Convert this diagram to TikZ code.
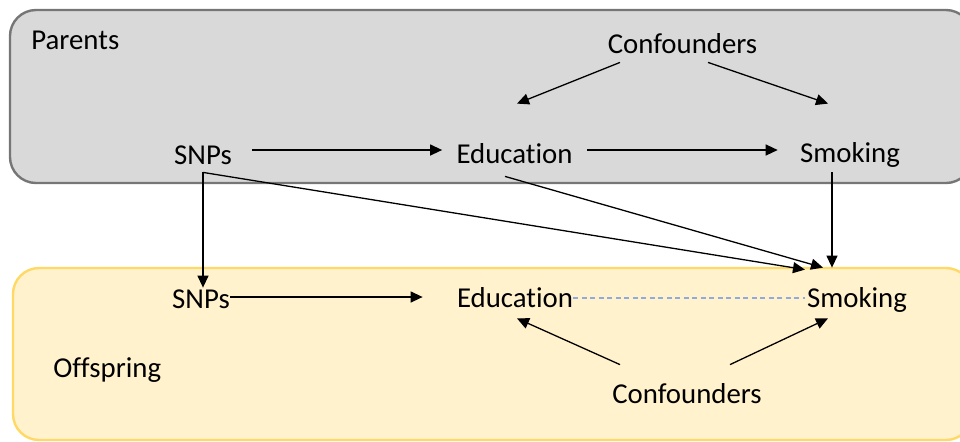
\documentclass[tikz,border=0pt]{standalone}
\usepackage{fontspec}
\setmainfont{Carlito}[Ligatures=NoCommon]
\usepackage{xcolor}
\usepackage{tikz}
\usetikzlibrary{arrows.meta, calc}

\definecolor{parentfill}{RGB}{217,217,217}
\definecolor{parentline}{RGB}{118,118,118}
\definecolor{childfill}{RGB}{255,242,204}
\definecolor{childline}{RGB}{255,217,102}
\definecolor{assoc}{RGB}{143,170,220}

\begin{document}
\begin{tikzpicture}[
    x=0.5pt, y=-0.5pt,
    every node/.style={font=\fontsize{14.4pt}{17pt}\selectfont},
    lbl/.style={inner sep=0pt, anchor=base, text height=9.5pt, text depth=2.5pt},
    groupbox/.style={rounded corners=13pt, line width=1.2pt},
    arrow/.style={-{Triangle[length=6pt, width=5.5pt]}, line width=0.65pt, draw=black},
    assocline/.style={dash pattern=on 2.5pt off 1.75pt, line width=0.6pt, draw=assoc}
]
\useasboundingbox (0,0) rectangle (960,441);

% Generation boxes
\draw[groupbox, fill=parentfill, draw=parentline] (10,10) rectangle (972,183);
\draw[groupbox, fill=childfill, draw=childline] (13,268) rectangle (972,440);

% Parents
\node[lbl, anchor=base west] (parents) at (31,49) {Parents};
\node[lbl] (conP) at (682.5,53) {Confounders};
\node[lbl] (snpP) at (203,164) {SNPs};
\node[lbl] (eduP) at (514.5,163) {Education};
\node[lbl] (smkP) at (850,162) {Smoking};

% Offspring
\node[lbl] (snpC) at (201,308) {SNPs};
\node[lbl] (eduC) at (515,307) {Education};
\node[lbl] (smkC) at (857,307) {Smoking};
\node[lbl, anchor=base west] (offspring) at (53,377) {Offspring};
\node[lbl] (conC) at (687,403) {Confounders};

% Arrows within parents
\draw[arrow] ($(snpP.east)+(20,-7)$) -- ($(eduP.west)+(-14,-6)$);
\draw[arrow] ($(eduP.east)+(14,-6)$) -- ($(smkP.west)+(-22,-5)$);
\draw[arrow] ($(conP.south)+(-62.5,4)$) -- ($(eduP.north)+(2.5,-40)$);
\draw[arrow] ($(conP.south)+(25.5,4)$) -- ($(smkP.north)+(-22,-39)$);

% Parents to offspring
\draw[arrow] ($(snpP.south)+(0,3)$) -- ($(snpP.south |- snpC.north)+(0,-1)$);
\draw[arrow] ($(snpP.south)+(0,3)$) -- ($(smkC.north)+(-52,-18)$);
\draw[arrow] ($(eduP.south)+(-9.5,8)$) -- ($(smkC.north)+(-34,-20)$);
\draw[arrow] ($(smkP.south)+(-18,5)$) -- ($(smkC.north)+(-25,-20)$);

% Arrows within offspring
\draw[arrow] ($(snpC.east)+(0,-4)$) -- ($(eduC.west)+(-34,-3)$);
\draw[assocline] ($(eduC.east)+(0,-2)$) -- ($(smkC.west)+(-2,-2)$);
\draw[arrow] ($(conC.north)+(-67,-19)$) -- ($(eduC.south)+(2,6)$);
\draw[arrow] ($(conC.north)+(43,-19)$) -- ($(smkC.south)+(-29,6)$);

\end{tikzpicture}
\end{document}
